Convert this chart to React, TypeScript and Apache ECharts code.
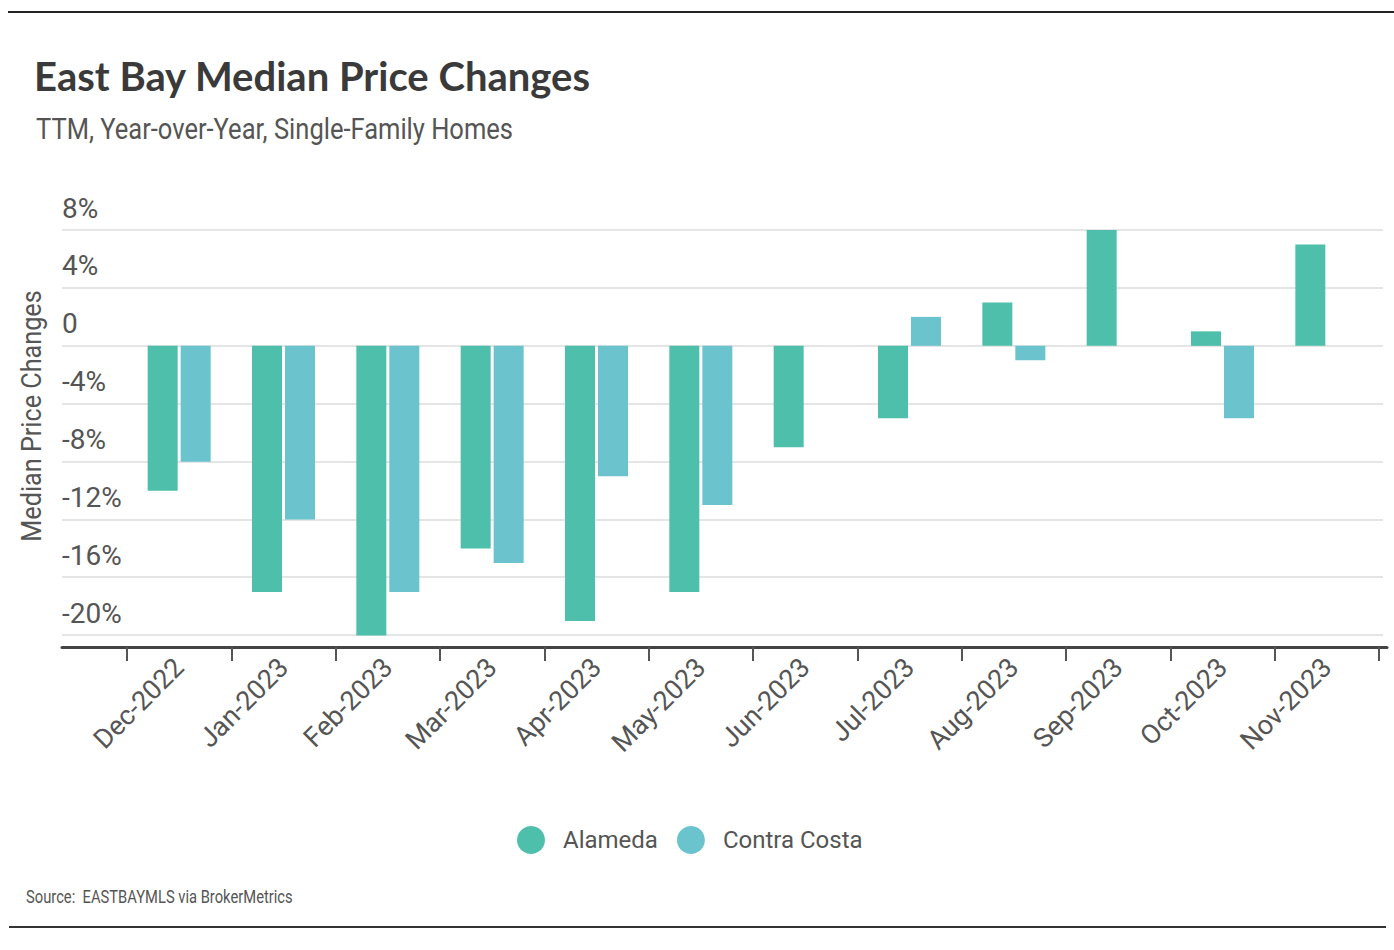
import React, { useEffect, useRef } from "react";
import * as echarts from "echarts";

const categories = [
  "Dec-2022", "Jan-2023", "Feb-2023", "Mar-2023", "Apr-2023", "May-2023",
  "Jun-2023", "Jul-2023", "Aug-2023", "Sep-2023", "Oct-2023", "Nov-2023",
];
const alameda = [-10, -17, -20, -14, -19, -17, -7, -5, 3, 8, 1, 7];
const contraCosta = [-8, -12, -17, -15, -9, -11, null, 2, -1, null, -5, null];
const seriesNames = ["Alameda", "Contra Costa"];
const seriesColors = ["#4EBFAB", "#6BC3CD"];
const yMin = -20;
const yMax = 8;
const yStep = 4;
const barAxisMin = -20.8;

const titleText = "East Bay Median Price Changes";
const subtitleText = "TTM, Year-over-Year, Single-Family Homes";
const yAxisName = "Median Price Changes";
const sourceText = "Source:  EASTBAYMLS via BrokerMetrics";

const NARROW = "Roboto, 'Liberation Sans', sans-serif";
const TITLE_FONT = "Lato, Roboto, sans-serif";

export default function App() {
  const ref = useRef<HTMLDivElement>(null);

  useEffect(() => {
    if (!ref.current) return;
    const chart = echarts.init(ref.current, null, { renderer: "svg" });
    const option: any = {
      animation: false,
      backgroundColor: "#ffffff",
      grid: [
        // bars
        { left: 127, right: 15, top: 230, bottom: 303 },
        // gridlines + y labels
        { left: 62, right: 11, top: 230, bottom: 315 },
        // bottom axis line
        { left: 62, right: 7, top: 230, bottom: 303 },
      ],
      xAxis: [
        {
          gridIndex: 0,
          type: "category",
          data: categories,
          axisLine: { show: false, onZero: false },
          axisTick: {
            show: true,
            interval: 0,
            length: 14,
            lineStyle: { color: "#555555", width: 2 },
          },
          axisLabel: {
            interval: 0,
            rotate: 45,
            margin: 16,
            fontSize: 27,
            color: "#555555",
            fontFamily: NARROW,
          },
        },
        {
          gridIndex: 1,
          type: "value",
          show: false,
        },
        {
          gridIndex: 2,
          type: "value",
          min: 0,
          max: 1,
          axisLine: { show: true, onZero: false, lineStyle: { color: "#444444", width: 3 } },
          axisTick: { show: false },
          axisLabel: { show: false },
          splitLine: { show: false },
        },
      ],
      yAxis: [
        {
          gridIndex: 0,
          type: "value",
          min: barAxisMin,
          max: yMax,
          show: false,
          splitLine: { show: false },
        },
        {
          gridIndex: 1,
          type: "value",
          min: yMin,
          max: yMax,
          interval: yStep,
          axisLine: { show: false },
          axisTick: { show: false },
          splitLine: { show: true, lineStyle: { color: "#dddddd", width: 1.5 } },
          axisLabel: {
            inside: true,
            margin: 0,
            align: "left",
            verticalAlign: "bottom",
            padding: [0, 0, 8, 0],
            fontSize: 28,
            color: "#555555",
            fontFamily: NARROW,
            formatter: (v: number) => (v === 0 ? "0" : `${v}%`),
          },
        },
        {
          gridIndex: 2,
          type: "value",
          min: 0,
          max: 1,
          show: false,
          splitLine: { show: false },
        },
      ],
      legend: {
        data: seriesNames,
        left: 517,
        top: 826,
        padding: 0,
        icon: "circle",
        itemWidth: 28,
        itemHeight: 28,
        itemGap: 19,
        textStyle: {
          fontSize: 24,
          color: "#555555",
          fontFamily: NARROW,
          padding: [0, 0, 0, 13],
        },
      },
      series: [
        {
          name: seriesNames[0],
          type: "bar",
          xAxisIndex: 0,
          yAxisIndex: 0,
          data: alameda,
          barWidth: 30,
          barGap: "10%",
          itemStyle: { color: seriesColors[0] },
        },
        {
          name: seriesNames[1],
          type: "bar",
          xAxisIndex: 0,
          yAxisIndex: 0,
          data: contraCosta,
          barWidth: 30,
          barGap: "10%",
          itemStyle: { color: seriesColors[1] },
        },
      ],
      graphic: [
        {
          type: "line",
          shape: { x1: 8, y1: 12, x2: 1394, y2: 12 },
          style: { stroke: "#222222", lineWidth: 2 },
        },
        {
          type: "line",
          shape: { x1: 9, y1: 927, x2: 1386, y2: 927 },
          style: { stroke: "#333333", lineWidth: 2 },
        },
        {
          type: "text",
          x: 34,
          y: 76,
          style: {
            text: titleText,
            font: `bold 40px ${TITLE_FONT}`,
            fill: "#3a3a3a",
            textAlign: "left",
            textVerticalAlign: "middle",
          },
        },
        {
          type: "text",
          x: 36,
          y: 129,
          scaleX: 0.88,
          style: {
            text: subtitleText,
            font: `29px ${NARROW}`,
            fill: "#555555",
            textAlign: "left",
            textVerticalAlign: "middle",
          },
        },
        {
          type: "text",
          x: 32,
          y: 416,
          rotation: Math.PI / 2,
          scaleX: 0.9,
          style: {
            text: yAxisName,
            font: `28px ${NARROW}`,
            fill: "#555555",
            textAlign: "center",
            textVerticalAlign: "middle",
          },
        },
        {
          type: "text",
          x: 26,
          y: 897,
          scaleX: 0.82,
          style: {
            text: sourceText,
            font: `18px ${NARROW}`,
            fill: "#555555",
            textAlign: "left",
            textVerticalAlign: "middle",
          },
        },
      ],
    };
    chart.setOption(option);
    return () => chart.dispose();
  }, []);

  return (
    <div
      ref={ref}
      style={{ position: "absolute", left: 0, top: 0, width: 1394, height: 950 }}
    />
  );
}
